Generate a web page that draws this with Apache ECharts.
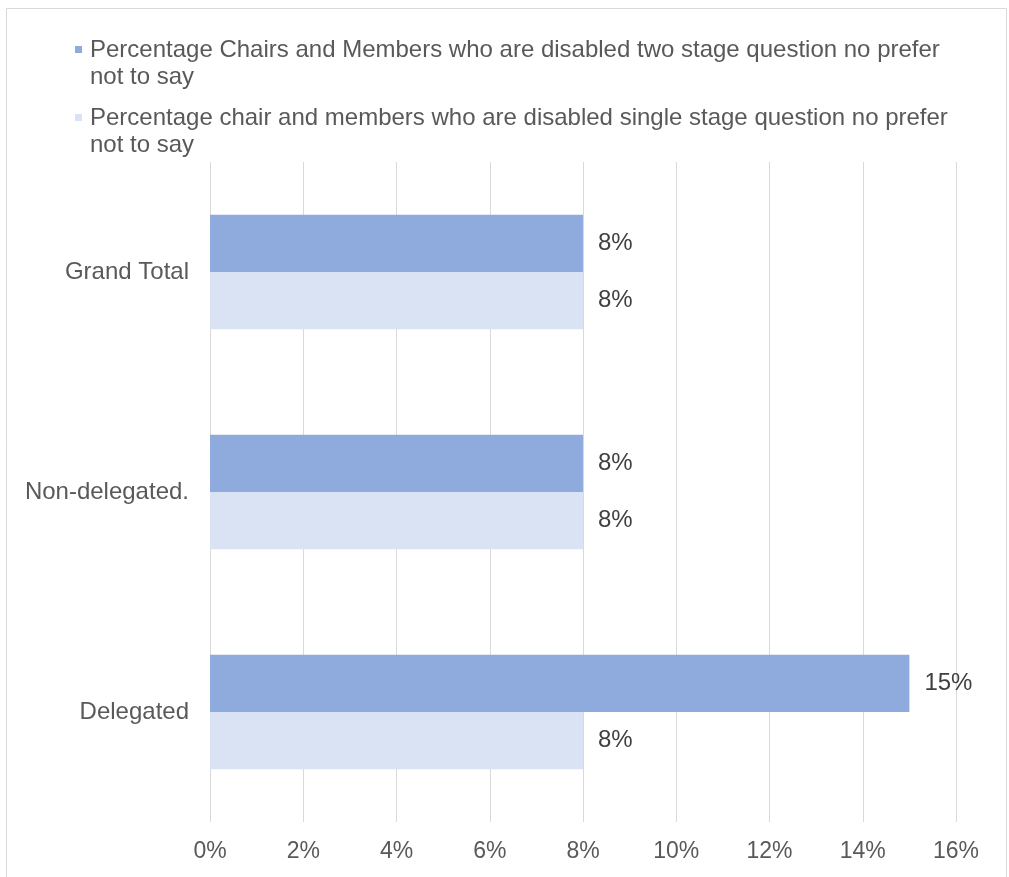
<!DOCTYPE html>
<html>
<head>
<meta charset="utf-8">
<script src="https://cdn.jsdelivr.net/npm/echarts@6/dist/echarts.min.js"></script>
<style>html,body{margin:0;padding:0;background:#fff;}#c{width:1009px;height:877px;}</style>
</head>
<body>
<div id="c"></div>
<script>
var categories = ['Delegated', 'Non-delegated.', 'Grand Total'];
var seriesNames = [
  'Percentage Chairs and Members who are disabled two stage question no prefer not to say',
  'Percentage chair and members who are disabled single stage question no prefer not to say'
];
var twoStage = [15, 8, 8];
var singleStage = [8, 8, 8];
var xTicks = [0, 2, 4, 6, 8, 10, 12, 14, 16];

var font = "'Liberation Sans', Arial, sans-serif";
var fs = 24;
var chart = echarts.init(document.getElementById('c'), null, {renderer: 'canvas'});
var icon = 'path://M0,0h0.1v0.1h-0.1z M0,9h7v7h-7z M0,53.9h0.1v0.1h-0.1z';
chart.setOption({
  animation: false,
  textStyle: {fontFamily: font},
  graphic: [{
    type: 'rect', silent: true,
    shape: {x: 6.5, y: 8.5, width: 1000, height: 900},
    style: {fill: 'none', stroke: '#d9d9d9', lineWidth: 1}
  }],
  legend: {
    orient: 'vertical',
    left: 70, top: 32,
    itemWidth: 7, itemHeight: 54, itemGap: 14,
    icon: icon,
    data: seriesNames,
    textStyle: {fontSize: fs, lineHeight: 27, color: '#595959', fontFamily: font, width: 875, overflow: 'break', padding: [0, 0, 0, 3]}
  },
  grid: {left: 210, right: 53, top: 162, bottom: 55, containLabel: false},
  xAxis: {
    type: 'value', min: 0, max: 16, interval: 2,
    axisLine: {show: false}, axisTick: {show: false},
    splitLine: {show: true, lineStyle: {color: '#d9d9d9', width: 1}},
    axisLabel: {fontSize: 23, color: '#595959', margin: 18, fontFamily: font,
      formatter: function (v) { return xTicks.indexOf(v) >= 0 ? v + '%' : ''; }}
  },
  yAxis: {
    type: 'category', data: categories,
    axisLine: {show: false}, axisTick: {show: false},
    axisLabel: {fontSize: fs, color: '#595959', margin: 21, fontFamily: font}
  },
  series: [
    {
      name: seriesNames[0], type: 'bar', data: twoStage,
      barGap: '0%', barCategoryGap: '48%',
      itemStyle: {color: '#8faadc'},
      label: {show: true, position: 'right', distance: 15, fontSize: fs, color: '#404040', fontFamily: font, formatter: '{c}%'}
    },
    {
      name: seriesNames[1], type: 'bar', data: singleStage,
      barGap: '0%', barCategoryGap: '48%',
      itemStyle: {color: '#dae3f3'},
      label: {show: true, position: 'right', distance: 15, fontSize: fs, color: '#404040', fontFamily: font, formatter: '{c}%'}
    }
  ]
});
</script>
</body>
</html>
